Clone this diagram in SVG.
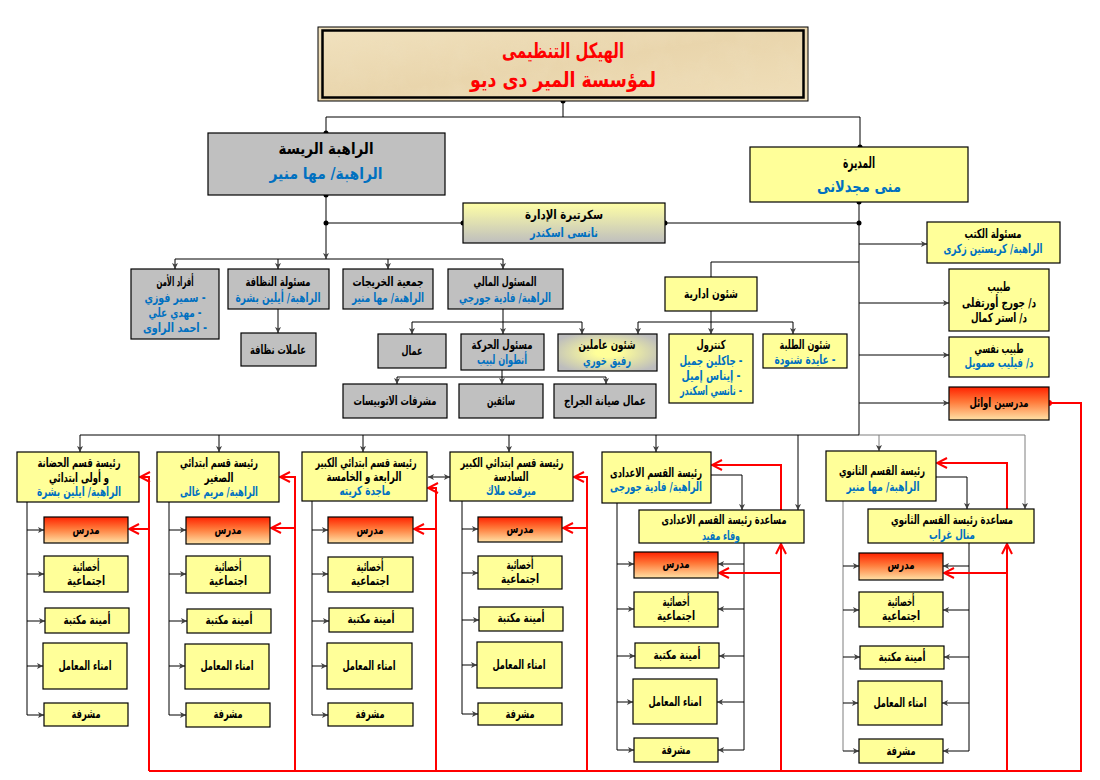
<svg xmlns="http://www.w3.org/2000/svg" width="1100" height="780" viewBox="0 0 1100 780">
<style>
.g{fill:#C0C0C0;stroke:#000;stroke-width:1.2}
.y{fill:#FFFF99;stroke:#000;stroke-width:1.2}
.r{fill:url(#redg);stroke:#000;stroke-width:1.2}
text{font-family:"DejaVu Sans",sans-serif;font-weight:bold;font-size:12.5px;text-anchor:middle;fill:#000;direction:rtl}
.b{fill:#0070C0}
.big{font-size:16px}
.c{stroke:#000;fill:none;stroke-width:1}
.cg{stroke:#7F7F7F;fill:none;stroke-width:1}
.a{marker-end:url(#arr)}
.rc{stroke:#FF0000;fill:none;stroke-width:2}
.ra{marker-end:url(#rarr)}
</style>
<defs>
<linearGradient id="redg" x1="0" y1="0" x2="0" y2="1">
<stop offset="0" stop-color="#FF2200"/>
<stop offset="0.45" stop-color="#FF7A3A"/>
<stop offset="1" stop-color="#FFE2A6"/>
</linearGradient>
<linearGradient id="secg" x1="0" y1="0" x2="0" y2="1">
<stop offset="0" stop-color="#FFFFA6"/>
<stop offset="1" stop-color="#BEBEBE"/>
</linearGradient>
<radialGradient id="shg" cx="0.5" cy="0.5" r="0.6">
<stop offset="0.2" stop-color="#FFFF99"/>
<stop offset="1" stop-color="#BDBDBD"/>
</radialGradient>
<linearGradient id="parch" x1="0" y1="0" x2="1" y2="1">
<stop offset="0" stop-color="#F1E2BF"/>
<stop offset="0.5" stop-color="#E9D5AC"/>
<stop offset="1" stop-color="#F0DFBA"/>
</linearGradient>
<filter id="tex" x="0" y="0" width="1" height="1">
<feTurbulence type="fractalNoise" baseFrequency="0.045" numOctaves="3" seed="4"/>
<feColorMatrix type="matrix" values="0 0 0 0 0.85  0 0 0 0 0.74  0 0 0 0 0.52  0 0 0 0.9 -0.35"/>
</filter>
<marker id="arr" viewBox="0 0 8 8" refX="8" refY="4" markerWidth="6" markerHeight="6" markerUnits="userSpaceOnUse" orient="auto">
<path d="M0,0 L8,4 L0,8 L2,4 Z" fill="#404040"/>
</marker>
<marker id="arr2" viewBox="0 0 8 8" refX="0" refY="4" markerWidth="6" markerHeight="6" markerUnits="userSpaceOnUse" orient="auto">
<path d="M8,0 L0,4 L8,8 L6,4 Z" fill="#404040"/>
</marker>
<marker id="rarr" viewBox="0 0 12 12" refX="11" refY="6" markerWidth="12" markerHeight="12" markerUnits="userSpaceOnUse" orient="auto">
<path d="M1,1 L11,6 L1,11" fill="none" stroke="#FF0000" stroke-width="2"/>
</marker>
</defs>
<rect width="1100" height="780" fill="#FFFFFF"/>

<!-- connectors -->
<g id="connectors">
<path class="c" d="M563,101 V117 M326,117 H860 M326,117 V133 M860,117 V147"/>
<path class="c" d="M326,195 V223"/>
<path class="c a" d="M326,223 V259"/>
<path class="c" d="M326,223 H463 M665,223 H859 M859,202 V435"/>
<path class="c" d="M175,259 H503"/>
<path class="c a" d="M175,259 V269"/>
<path class="c a" d="M278,259 V269"/>
<path class="c a" d="M388,259 V269"/>
<path class="c a" d="M503,259 V269"/>
<path class="c a" d="M278,309 V333"/>
<path class="c" d="M503,309 V322 M412,322 H582"/>
<path class="c a" d="M412,322 V334"/>
<path class="c a" d="M503,322 V334"/>
<path class="c a" d="M582,322 V334"/>
<path class="c" d="M711,277 V262 H859"/>
<path class="c" d="M711,311 V322 M638,322 H793"/>
<path class="c a" d="M638,322 V334"/>
<path class="c a" d="M711,322 V334"/>
<path class="c a" d="M793,322 V334"/>
<path class="c" d="M502,370 V377 M397,377 H606"/>
<path class="c a" d="M397,377 V384"/>
<path class="c a" d="M502,377 V384"/>
<path class="c a" d="M606,377 V384"/>
<path class="c a" d="M859,244 H927"/>
<path class="c a" d="M859,303 H949"/>
<path class="c a" d="M859,355 H949"/>
<path class="c a" d="M859,403 H949"/>
<path class="c" d="M80,435 H859"/>
<path class="cg" d="M859,435 H1025"/>
<path class="c a" d="M80,435 V452"/>
<path class="c a" d="M219,435 V452"/>
<path class="c a" d="M363,435 V452"/>
<path class="c a" d="M509,435 V452"/>
<path class="c a" d="M656,435 V452"/>
<path class="cg a" d="M879,435 V451"/>
<path class="c a" d="M798,435 V510"/>
<path class="cg a" d="M1025,435 V509"/>
<path class="c a" d="M711,475 H742 V510"/>
<path class="c a" d="M936,477 H967 V509"/>
<path class="c a" d="M428,477 H450" marker-start="url(#arr2)"/>
<!-- column 1 -->
<path class="c" d="M27,502 V715"/>
<path class="c a" d="M27,530 H44"/><path class="c a" d="M27,574 H44"/><path class="c a" d="M27,621 H45"/><path class="c a" d="M27,666 H43"/><path class="c a" d="M27,715 H44"/>
<!-- column 2 -->
<path class="c" d="M169,502 V715"/>
<path class="c a" d="M169,530 H186"/><path class="c a" d="M169,574 H186"/><path class="c a" d="M169,621 H187"/><path class="c a" d="M169,666 H185"/><path class="c a" d="M169,715 H186"/>
<!-- column 3 -->
<path class="c" d="M312,501 V715"/>
<path class="c a" d="M312,530 H328"/><path class="c a" d="M312,574 H328"/><path class="c a" d="M312,621 H329"/><path class="c a" d="M312,666 H327"/><path class="c a" d="M312,715 H328"/>
<!-- column 4 -->
<path class="c" d="M462,501 V714"/>
<path class="c a" d="M462,529 H478"/><path class="c a" d="M462,573 H478"/><path class="c a" d="M462,620 H479"/><path class="c a" d="M462,665 H477"/><path class="c a" d="M462,714 H478"/>
<!-- column 5 -->
<path class="c" d="M617,503 V750 M744,543 V750"/>
<path class="c a" d="M617,564 H634"/><path class="c a" d="M617,609 H634"/><path class="c a" d="M617,656 H635"/><path class="c a" d="M617,702 H633"/><path class="c a" d="M617,750 H634"/>
<path class="c a" d="M744,564 H718"/><path class="c a" d="M744,609 H718"/><path class="c a" d="M744,656 H719"/><path class="c a" d="M744,702 H717"/><path class="c a" d="M744,750 H718"/>
<!-- column 6 -->
<path class="cg" d="M843,501 V751"/>
<path class="c" d="M969,543 V751"/>
<path class="c a" d="M843,566 H859"/><path class="c a" d="M843,610 H859"/><path class="c a" d="M843,657 H860"/><path class="c a" d="M843,703 H858"/><path class="c a" d="M843,751 H859"/>
<path class="c a" d="M969,566 H943"/><path class="c a" d="M969,610 H943"/><path class="c a" d="M969,657 H944"/><path class="c a" d="M969,703 H942"/><path class="c a" d="M969,751 H943"/>
<!-- dots -->
<g fill="#000">
<circle cx="563" cy="101" r="2.5"/><circle cx="326" cy="133" r="2.5"/><circle cx="860" cy="147" r="2.5"/>
<circle cx="326" cy="195" r="2.5"/><circle cx="326" cy="223" r="2.5"/><circle cx="463" cy="223" r="2.5"/>
<circle cx="665" cy="223" r="2.5"/><circle cx="859" cy="223" r="2.5"/><circle cx="859" cy="202" r="2.5"/>
</g>
<!-- red links -->
<path class="rc" d="M1049,403 H1081 V771 H149"/>
<circle cx="1049" cy="403" r="3" fill="#FF0000"/>
<path class="rc ra" d="M149,771 V477 H140"/>
<path class="rc ra" d="M149,529 H129"/>
<path class="rc ra" d="M295,771 V477 H280"/>
<path class="rc ra" d="M295,528 H271"/>
<path class="rc ra" d="M436,771 V488 H428"/>
<path class="rc ra" d="M436,529 H414"/>
<path class="rc ra" d="M587,771 V477 H574"/>
<path class="rc ra" d="M587,528 H563"/>
<path class="rc ra" d="M781,771 V544"/>
<path class="rc ra" d="M781,510 V465 H712"/>
<path class="rc ra" d="M781,573 H719"/>
<path class="rc ra" d="M1007,771 V544"/>
<path class="rc ra" d="M1007,509 V463 H937"/>
<path class="rc ra" d="M1007,573 H944"/>
</g>

<!-- top nodes -->
<g id="title">
<rect x="318" y="27" width="490" height="74" fill="url(#parch)" stroke="#000" stroke-width="1"/>
<rect x="323" y="31" width="480" height="66" filter="url(#tex)" opacity="0.6"/>
<rect x="322.5" y="30.5" width="481" height="67" fill="none" stroke="#000" stroke-width="2.5"/>
<text x="563" y="58" style="font-size:21px;fill:#FF0000" textLength="122" lengthAdjust="spacingAndGlyphs">الهيكل التنظيمى</text>
<text x="563" y="87" style="font-size:21px;fill:#FF0000" textLength="186" lengthAdjust="spacingAndGlyphs">لمؤسسة المير دى ديو</text>
</g>
<g id="n-rahiba">
<rect class="g" x="208" y="133" width="237" height="62"/>
<text class="big" x="326" y="154" textLength="95" lengthAdjust="spacingAndGlyphs">الراهبة الريسة</text>
<text class="big b" x="326" y="179" textLength="113" lengthAdjust="spacingAndGlyphs">الراهبة/ مها منير</text>
</g>
<g id="n-modira">
<rect class="y" x="750" y="147" width="218" height="55"/>
<text class="big" x="859" y="168" textLength="32" lengthAdjust="spacingAndGlyphs">المديرة</text>
<text class="big b" x="859" y="192" textLength="84" lengthAdjust="spacingAndGlyphs">منى مجدلانى</text>
</g>
<g id="n-secretary">
<rect x="463" y="203" width="202" height="40" fill="url(#secg)" stroke="#000" stroke-width="1.2"/>
<text x="564" y="219" textLength="78" lengthAdjust="spacingAndGlyphs">سكرتيرة الإدارة</text>
<text class="b" x="564" y="237" textLength="68" lengthAdjust="spacingAndGlyphs">نانسى اسكندر</text>
</g>

<!-- second row -->
<g id="n-security">
<rect class="g" x="131" y="269" width="88" height="70"/>
<text x="175" y="286" textLength="37" lengthAdjust="spacingAndGlyphs">أفراد الأمن</text>
<text class="b" x="175" y="302" textLength="61" lengthAdjust="spacingAndGlyphs">- سمير فوزي</text>
<text class="b" x="175" y="317" textLength="53" lengthAdjust="spacingAndGlyphs">- مهدي علي</text>
<text class="b" x="175" y="332" textLength="64" lengthAdjust="spacingAndGlyphs">- احمد الراوى</text>
</g>
<g id="n-cleaning">
<rect class="g" x="228" y="269" width="101" height="40"/>
<text x="278" y="286" textLength="65" lengthAdjust="spacingAndGlyphs">مسئولة النظافة</text>
<text class="b" x="278" y="302" textLength="85" lengthAdjust="spacingAndGlyphs">الراهبة/  أيلين بشرة</text>
</g>
<g id="n-alumni">
<rect class="g" x="343" y="269" width="90" height="40"/>
<text x="388" y="286" textLength="71" lengthAdjust="spacingAndGlyphs">جمعية الخريجات</text>
<text class="b" x="388" y="302" textLength="72" lengthAdjust="spacingAndGlyphs">الراهبة/ مها منير</text>
</g>
<g id="n-finance">
<rect class="g" x="448" y="269" width="115" height="40"/>
<text x="505" y="286" textLength="63" lengthAdjust="spacingAndGlyphs">المسئول المالي</text>
<text class="b" x="505" y="302" textLength="92" lengthAdjust="spacingAndGlyphs">الراهبة/ فادية جورجي</text>
</g>
<g id="n-cleaners">
<rect class="g" x="241" y="333" width="75" height="33"/>
<text x="278" y="354" textLength="56" lengthAdjust="spacingAndGlyphs">عاملات نظافة</text>
</g>
<g id="n-workers">
<rect class="g" x="378" y="334" width="68" height="34"/>
<text x="412" y="355" textLength="21" lengthAdjust="spacingAndGlyphs">عمال</text>
</g>
<g id="n-transport">
<rect class="g" x="461" y="334" width="83" height="36"/>
<text x="502" y="349" textLength="61" lengthAdjust="spacingAndGlyphs">مسئول الحركة</text>
<text class="b" x="502" y="364" textLength="50" lengthAdjust="spacingAndGlyphs">أنطوان لبيب</text>
</g>
<g id="n-staff">
<rect x="558" y="334" width="99" height="37" fill="url(#shg)" stroke="#000" stroke-width="1.2"/>
<text x="607" y="349" textLength="57" lengthAdjust="spacingAndGlyphs">شئون عاملين</text>
<text class="b" x="607" y="365" textLength="48" lengthAdjust="spacingAndGlyphs">رفيق خوري</text>
</g>
<g id="n-admin">
<rect class="y" x="665" y="277" width="92" height="34"/>
<text x="711" y="298" textLength="54" lengthAdjust="spacingAndGlyphs">شئون ادارية</text>
</g>
<g id="n-control">
<rect class="y" x="669" y="334" width="84" height="69"/>
<text x="711" y="349" textLength="29" lengthAdjust="spacingAndGlyphs">كنترول</text>
<text class="b" x="711" y="365" textLength="63" lengthAdjust="spacingAndGlyphs">- جاكلين جميل</text>
<text class="b" x="711" y="380" textLength="59" lengthAdjust="spacingAndGlyphs">- إيناس إميل</text>
<text class="b" x="711" y="395" textLength="62" lengthAdjust="spacingAndGlyphs">- نانسي اسكندر</text>
</g>
<g id="n-students">
<rect class="y" x="763" y="334" width="84" height="34"/>
<text x="805" y="349" textLength="51" lengthAdjust="spacingAndGlyphs">شئون الطلبة</text>
<text class="b" x="805" y="364" textLength="61" lengthAdjust="spacingAndGlyphs">- عايدة شنودة</text>
</g>
<g id="n-bus">
<rect class="g" x="343" y="384" width="104" height="34"/>
<text x="395" y="405" textLength="83" lengthAdjust="spacingAndGlyphs">مشرفات الاتوبيسات</text>
</g>
<g id="n-drivers">
<rect class="g" x="459" y="384" width="84" height="34"/>
<text x="501" y="405" textLength="28" lengthAdjust="spacingAndGlyphs">سائقين</text>
</g>
<g id="n-garage">
<rect class="g" x="554" y="384" width="102" height="34"/>
<text x="605" y="405" textLength="82" lengthAdjust="spacingAndGlyphs">عمال صيانة الجراج</text>
</g>

<!-- right column -->
<g id="n-books">
<rect class="y" x="927" y="222" width="133" height="41"/>
<text x="993" y="238" textLength="57" lengthAdjust="spacingAndGlyphs">مسئولة الكتب</text>
<text class="b" x="993" y="253" textLength="99" lengthAdjust="spacingAndGlyphs">الراهبة/ كريستين زكرى</text>
</g>
<g id="n-doctor">
<rect class="y" x="949" y="269" width="100" height="62"/>
<text x="999" y="291" textLength="23" lengthAdjust="spacingAndGlyphs">طبيب</text>
<text x="999" y="307" textLength="74" lengthAdjust="spacingAndGlyphs">د/ جورج أورتفلى</text>
<text x="999" y="322" textLength="56" lengthAdjust="spacingAndGlyphs">د/ استر كمال</text>
</g>
<g id="n-psych">
<rect class="y" x="949" y="337" width="100" height="40"/>
<text x="999" y="353" textLength="49" lengthAdjust="spacingAndGlyphs">طبيب نفسي</text>
<text class="b" x="999" y="367" textLength="69" lengthAdjust="spacingAndGlyphs">د/ فيليب صمويل</text>
</g>
<g id="n-firstteachers">
<rect class="r" x="949" y="387" width="100" height="33"/>
<text x="999" y="407" textLength="59" lengthAdjust="spacingAndGlyphs">مدرسين اوائل</text>
</g>

<!-- bottom heads -->
<g id="h1">
<rect class="y" x="17" y="452" width="122" height="50"/>
<text x="79" y="467" textLength="83" lengthAdjust="spacingAndGlyphs">رئيسة قسم الحضانة</text>
<text x="79" y="482" textLength="60" lengthAdjust="spacingAndGlyphs">و أولى ابتدائي</text>
<text class="b" x="79" y="496" textLength="84" lengthAdjust="spacingAndGlyphs">الراهبة/  ايلين بشرة</text>
</g>
<g id="h2">
<rect class="y" x="157" y="452" width="122" height="50"/>
<text x="219" y="467" textLength="78" lengthAdjust="spacingAndGlyphs">رئيسة قسم ابتدائي</text>
<text x="219" y="482" textLength="29" lengthAdjust="spacingAndGlyphs">الصغير</text>
<text class="b" x="219" y="496" textLength="78" lengthAdjust="spacingAndGlyphs">الراهبة/ مريم غالى</text>
</g>
<g id="h3">
<rect class="y" x="302" y="452" width="125" height="49"/>
<text x="366" y="467" textLength="101" lengthAdjust="spacingAndGlyphs">رئيسة قسم ابتدائي الكبير</text>
<text x="364" y="481" textLength="75" lengthAdjust="spacingAndGlyphs">الرابعة و الخامسة</text>
<text class="b" x="365" y="495" textLength="51" lengthAdjust="spacingAndGlyphs">ماجدة كريته</text>
</g>
<g id="h4">
<rect class="y" x="450" y="452" width="123" height="49"/>
<text x="512" y="467" textLength="103" lengthAdjust="spacingAndGlyphs">رئيسة قسم ابتدائي الكبير</text>
<text x="511" y="481" textLength="35" lengthAdjust="spacingAndGlyphs">السادسة</text>
<text class="b" x="511" y="495" textLength="50" lengthAdjust="spacingAndGlyphs">ميرفت ملاك</text>
</g>
<g id="h5">
<rect class="y" x="602" y="452" width="109" height="51"/>
<text x="656" y="477" textLength="92" lengthAdjust="spacingAndGlyphs">رئيسة القسم الاعدادى</text>
<text class="b" x="656" y="491" textLength="92" lengthAdjust="spacingAndGlyphs">الراهبة/ فادية جورجى</text>
</g>
<g id="a5">
<rect class="y" x="639" y="510" width="165" height="33"/>
<text x="724" y="524" textLength="125" lengthAdjust="spacingAndGlyphs">مساعدة رئيسة القسم الاعدادى</text>
<text class="b" x="721" y="540" textLength="38" lengthAdjust="spacingAndGlyphs">وفاء مفيد</text>
</g>
<g id="h6">
<rect class="y" x="826" y="451" width="110" height="50"/>
<text x="882" y="475" textLength="86" lengthAdjust="spacingAndGlyphs">رئيسة القسم الثانوي</text>
<text class="b" x="883" y="491" textLength="73" lengthAdjust="spacingAndGlyphs">الراهبة/ مها منير</text>
</g>
<g id="a6">
<rect class="y" x="868" y="509" width="166" height="34"/>
<text x="952" y="524" textLength="122" lengthAdjust="spacingAndGlyphs">مساعدة رئيسة القسم الثانوي</text>
<text class="b" x="952" y="539" textLength="46" lengthAdjust="spacingAndGlyphs">منال غراب</text>
</g>

<!-- column 1 boxes -->
<g id="c1-teacher"><rect class="r" x="44" y="517" width="84" height="26"/><text x="86" y="534" textLength="27" lengthAdjust="spacingAndGlyphs">مدرس</text></g>
<g id="c1-social"><rect class="y" x="44" y="556" width="84" height="36"/><text x="86" y="571" textLength="27" lengthAdjust="spacingAndGlyphs">أخصائية</text><text x="86" y="585" textLength="38" lengthAdjust="spacingAndGlyphs">اجتماعية</text></g>
<g id="c1-lib"><rect class="y" x="45" y="608" width="84" height="25"/><text x="87" y="624" textLength="47" lengthAdjust="spacingAndGlyphs">أمينة مكتبة</text></g>
<g id="c1-lab"><rect class="y" x="43" y="643" width="84" height="46"/><text x="85" y="670" textLength="53" lengthAdjust="spacingAndGlyphs">امناء المعامل</text></g>
<g id="c1-sup"><rect class="y" x="44" y="703" width="84" height="23"/><text x="86" y="718" textLength="29" lengthAdjust="spacingAndGlyphs">مشرفة</text></g>
<!-- column 2 boxes -->
<g id="c2-teacher"><rect class="r" x="186" y="517" width="84" height="27"/><text x="228" y="534" textLength="27" lengthAdjust="spacingAndGlyphs">مدرس</text></g>
<g id="c2-social"><rect class="y" x="186" y="556" width="84" height="37"/><text x="228" y="571" textLength="27" lengthAdjust="spacingAndGlyphs">أخصائية</text><text x="228" y="585" textLength="38" lengthAdjust="spacingAndGlyphs">اجتماعية</text></g>
<g id="c2-lib"><rect class="y" x="187" y="609" width="84" height="24"/><text x="229" y="624" textLength="47" lengthAdjust="spacingAndGlyphs">أمينة مكتبة</text></g>
<g id="c2-lab"><rect class="y" x="185" y="644" width="84" height="45"/><text x="227" y="670" textLength="53" lengthAdjust="spacingAndGlyphs">امناء المعامل</text></g>
<g id="c2-sup"><rect class="y" x="186" y="703" width="84" height="24"/><text x="228" y="718" textLength="29" lengthAdjust="spacingAndGlyphs">مشرفة</text></g>
<!-- column 3 boxes -->
<g id="c3-teacher"><rect class="r" x="328" y="517" width="85" height="26"/><text x="370" y="534" textLength="27" lengthAdjust="spacingAndGlyphs">مدرس</text></g>
<g id="c3-social"><rect class="y" x="328" y="557" width="85" height="35"/><text x="370" y="571" textLength="27" lengthAdjust="spacingAndGlyphs">أخصائية</text><text x="370" y="585" textLength="38" lengthAdjust="spacingAndGlyphs">اجتماعية</text></g>
<g id="c3-lib"><rect class="y" x="329" y="608" width="84" height="24"/><text x="371" y="623" textLength="47" lengthAdjust="spacingAndGlyphs">أمينة مكتبة</text></g>
<g id="c3-lab"><rect class="y" x="327" y="643" width="85" height="46"/><text x="369" y="670" textLength="53" lengthAdjust="spacingAndGlyphs">امناء المعامل</text></g>
<g id="c3-sup"><rect class="y" x="328" y="703" width="85" height="23"/><text x="370" y="718" textLength="29" lengthAdjust="spacingAndGlyphs">مشرفة</text></g>
<!-- column 4 boxes -->
<g id="c4-teacher"><rect class="r" x="478" y="517" width="84" height="25"/><text x="520" y="533" textLength="27" lengthAdjust="spacingAndGlyphs">مدرس</text></g>
<g id="c4-social"><rect class="y" x="478" y="556" width="84" height="33"/><text x="520" y="569" textLength="27" lengthAdjust="spacingAndGlyphs">أخصائية</text><text x="520" y="583" textLength="38" lengthAdjust="spacingAndGlyphs">اجتماعية</text></g>
<g id="c4-lib"><rect class="y" x="479" y="607" width="84" height="24"/><text x="521" y="622" textLength="47" lengthAdjust="spacingAndGlyphs">أمينة مكتبة</text></g>
<g id="c4-lab"><rect class="y" x="477" y="642" width="85" height="46"/><text x="519" y="669" textLength="53" lengthAdjust="spacingAndGlyphs">امناء المعامل</text></g>
<g id="c4-sup"><rect class="y" x="478" y="703" width="84" height="22"/><text x="520" y="718" textLength="29" lengthAdjust="spacingAndGlyphs">مشرفة</text></g>
<!-- column 5 boxes -->
<g id="c5-teacher"><rect class="r" x="634" y="552" width="84" height="26"/><text x="676" y="568" textLength="27" lengthAdjust="spacingAndGlyphs">مدرس</text></g>
<g id="c5-social"><rect class="y" x="634" y="592" width="84" height="35"/><text x="676" y="606" textLength="27" lengthAdjust="spacingAndGlyphs">أخصائية</text><text x="676" y="620" textLength="38" lengthAdjust="spacingAndGlyphs">اجتماعية</text></g>
<g id="c5-lib"><rect class="y" x="635" y="643" width="84" height="25"/><text x="677" y="659" textLength="47" lengthAdjust="spacingAndGlyphs">أمينة مكتبة</text></g>
<g id="c5-lab"><rect class="y" x="633" y="679" width="84" height="45"/><text x="675" y="706" textLength="53" lengthAdjust="spacingAndGlyphs">امناء المعامل</text></g>
<g id="c5-sup"><rect class="y" x="634" y="738" width="84" height="24"/><text x="676" y="754" textLength="29" lengthAdjust="spacingAndGlyphs">مشرفة</text></g>
<!-- column 6 boxes -->
<g id="c6-teacher"><rect class="r" x="859" y="553" width="84" height="27"/><text x="901" y="569" textLength="27" lengthAdjust="spacingAndGlyphs">مدرس</text></g>
<g id="c6-social"><rect class="y" x="859" y="592" width="84" height="35"/><text x="901" y="606" textLength="27" lengthAdjust="spacingAndGlyphs">أخصائية</text><text x="901" y="620" textLength="38" lengthAdjust="spacingAndGlyphs">اجتماعية</text></g>
<g id="c6-lib"><rect class="y" x="860" y="646" width="84" height="23"/><text x="902" y="661" textLength="47" lengthAdjust="spacingAndGlyphs">أمينة مكتبة</text></g>
<g id="c6-lab"><rect class="y" x="858" y="681" width="84" height="44"/><text x="900" y="707" textLength="53" lengthAdjust="spacingAndGlyphs">امناء المعامل</text></g>
<g id="c6-sup"><rect class="y" x="859" y="739" width="84" height="24"/><text x="901" y="755" textLength="29" lengthAdjust="spacingAndGlyphs">مشرفة</text></g>
</svg>
